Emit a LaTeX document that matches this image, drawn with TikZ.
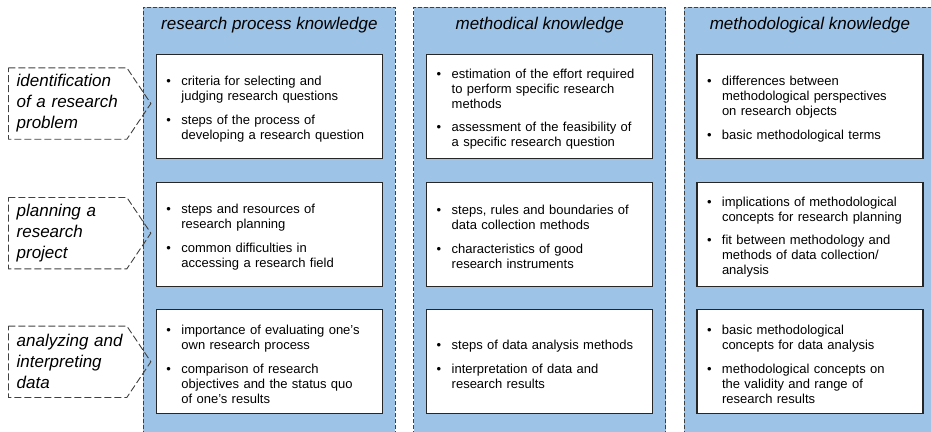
\documentclass[tikz,border=0pt]{standalone}
\usepackage{fontspec}
\setmainfont{Liberation Sans}
\usetikzlibrary{positioning}

\definecolor{colblue}{RGB}{157,195,230}
\definecolor{dashgray}{RGB}{64,64,64}
\definecolor{boxgray}{RGB}{38,38,38}

% one bullet point with hanging lines
\newcommand{\kitem}[1]{\par\hangindent=15pt\hangafter=1\noindent\makebox[15pt][l]{\textbullet}#1\par}
\newcommand{\kgap}{\vspace{8.5pt}}

\begin{document}
\begin{tikzpicture}[
  x=1pt, y=-1pt,
  column/.style={rectangle, fill=colblue, draw=dashgray, dash pattern=on 4pt off 2pt, line width=0.8pt, minimum width=252pt, minimum height=440pt, anchor=north west, inner sep=0pt},
  head/.style={font=\fontsize{17}{20}\selectfont\itshape},
  know/.style={rectangle, draw=boxgray, line width=1.1pt, fill=white, minimum width=226pt, minimum height=104pt, text width=206pt, inner xsep=10pt, inner ysep=0pt, align=left, font=\fontsize{13}{15}\selectfont},
  phase/.style={rectangle, minimum width=118pt, minimum height=71pt, text width=102pt, inner xsep=8pt, inner ysep=0pt, align=left, font=\fontsize{17}{21}\selectfont\itshape},
  outline/.style={draw=dashgray, dash pattern=on 7pt off 3pt, line width=0.9pt}
]
  \useasboundingbox (0,0) rectangle (931,431);
  \clip (0,0) rectangle (931,431);

  % columns
  \node[column] (col1) at (143,7) {};
  \node[column, right=17.5pt of col1] (col2) {};
  \node[column, right=17.5pt of col2] (col3) {};

  \node[head] (h1) at ([yshift=-18pt]col1.north) {research process knowledge};
  \node[head] (h2) at ([yshift=-18pt]col2.north) {methodical knowledge};
  \node[head] (h3) at ([yshift=-18pt]col3.north) {methodological knowledge};

  % research process knowledge
  \node[know, below=47pt of col1.north] (k11) {%
    \kitem{criteria for selecting and\newline judging research questions}\kgap
    \kitem{steps of the process of\newline developing a research question}};
  \node[know, below=22.5pt of k11] (k12) {%
    \kitem{steps and resources of\newline research planning}\kgap
    \kitem{common difficulties in\newline accessing a research field}};
  \node[know, below=22.5pt of k12] (k13) {%
    \kitem{importance of evaluating one's\newline own research process}\kgap
    \kitem{comparison of research\newline objectives and the status quo\newline of one's results}};

  % methodical knowledge
  \node[know, below=47pt of col2.north] (k21) {%
    \kitem{estimation of the effort required\newline to perform specific research\newline methods}\kgap
    \kitem{assessment of the feasibility of\newline a specific research question}};
  \node[know, below=22.5pt of k21] (k22) {%
    \kitem{steps, rules and boundaries of\newline data collection methods}\kgap
    \kitem{characteristics of good\newline research instruments}};
  \node[know, below=22.5pt of k22] (k23) {%
    \kitem{steps of data analysis methods}\kgap
    \kitem{interpretation of data and\newline research results}};

  % methodological knowledge
  \node[know, below=47pt of col3.north] (k31) {%
    \kitem{differences between\newline methodological perspectives\newline on research objects}\kgap
    \kitem{basic methodological terms}};
  \node[know, below=22.5pt of k31] (k32) {%
    \kitem{implications of methodological\newline concepts for research planning}\kgap
    \kitem{fit between methodology and\newline methods of data collection/\newline analysis}};
  \node[know, below=22.5pt of k32] (k33) {%
    \kitem{basic methodological\newline concepts for data analysis}\kgap
    \kitem{methodological concepts on\newline the validity and range of\newline research results}};

  % research phases
  \node[phase, left=29pt of k11, yshift=3pt] (p1) {identification\\ of a research\\ problem};
  \node[phase, left=29pt of k12, yshift=1pt] (p2) {planning a\\ research\\ project};
  \node[phase, left=29pt of k13] (p3) {analyzing~and\\ interpreting\\ data};

  \coordinate[right=24pt of p1.east] (t1);
  \coordinate[right=24pt of p2.east] (t2);
  \coordinate[right=24pt of p3.east] (t3);

  \draw[outline] (p1.north west) -- (p1.north east) -- (t1) -- (p1.south east) -- (p1.south west) -- cycle;
  \draw[outline] (p2.north west) -- (p2.north east) -- (t2) -- (p2.south east) -- (p2.south west) -- cycle;
  \draw[outline] (p3.north west) -- (p3.north east) -- (t3) -- (p3.south east) -- (p3.south west) -- cycle;
\end{tikzpicture}
\end{document}
